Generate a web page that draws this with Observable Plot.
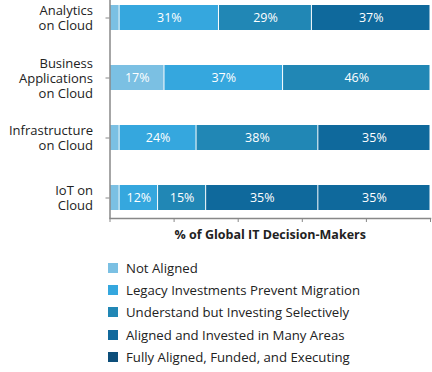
<!DOCTYPE html>
<html><head><meta charset="utf-8">
<script src="https://cdn.jsdelivr.net/npm/d3@7"></script>
<script src="https://cdn.jsdelivr.net/npm/@observablehq/plot@0.6"></script>
<style>
body{margin:0;background:#fff;font-family:"Open Sans",sans-serif;color:#222;}
#chart{width:432px;}
#chart svg{display:block;}
.legend{margin-top:7px;padding-left:108px;font-size:13.2px;}
.legend .row{height:22.2px;display:flex;align-items:center;}
.legend .sw{width:10px;height:10px;margin-right:8px;flex:none;}
</style></head><body><div id="chart"></div>
<script>
const categories = ["Analytics on Cloud","Business Applications on Cloud","Infrastructure on Cloud","IoT on Cloud"];
const categoryLabels = ["Analytics\non Cloud","Business\nApplications\non Cloud","Infrastructure\non Cloud","IoT on\nCloud"];
const seriesNames = ["Not Aligned","Legacy Investments Prevent Migration","Understand but Investing Selectively","Aligned and Invested in Many Areas","Fully Aligned, Funded, and Executing"];
const notAligned = [3,17,3,3];
const legacy = [31,37,24,12];
const understand = [29,46,38,15];
const alignedInvested = [0,0,0,35];
const fullyAligned = [37,0,35,35];
const barColors = ["#7bc0e3","#35a7de","#2187b5","#0f699c","#0f699c"];
const legendColors = ["#7bc0e3","#35a7de","#2187b5","#11699c","#0d4e7a"];
const xTicks = [0,20,40,60,80,100];
const xLabel = "% of Global IT Decision-Makers";

const seriesValues = [notAligned, legacy, understand, alignedInvested, fullyAligned];
const data = [];
categories.forEach((c, i) => {
  seriesNames.forEach((s, j) => {
    data.push({category: c, series: s, value: seriesValues[j][i]});
  });
});
const labelOf = new Map(categories.map((c, i) => [c, categoryLabels[i]]));

const chart = Plot.plot({
  width: 432,
  height: 250,
  marginTop: 0,
  marginLeft: 109.5,
  marginRight: 2,
  marginBottom: 32,
  style: {fontFamily: "Open Sans, sans-serif", color: "#222", background: "#fff"},
  x: {domain: [0, 100]},
  y: {domain: categories, range: [-2.3, 218], paddingInner: 0.58, paddingOuter: 0.104},
  color: {domain: seriesNames, range: barColors},
  marks: [
    Plot.barX(data, Plot.stackX({x: "value", y: "category", z: "series", fill: "series", insetLeft: 0.5, insetRight: 0.5})),
    Plot.text(data, Plot.stackX({x: "value", y: "category", z: "series", text: d => d.value >= 10 ? d.value + "%" : "", fill: "white", fontSize: 12.5})),
    Plot.axisY({tickSize: 4, tickPadding: 13, fontSize: 13, lineHeight: 1.15, tickFormat: d => labelOf.get(d), stroke: "#888", label: null}),
    Plot.axisX({ticks: xTicks, tickSize: 4, tickFormat: () => "", stroke: "#888", label: null}),
    Plot.ruleX([0], {stroke: "#888", strokeWidth: 1.5}),
    Plot.frame({anchor: "bottom", stroke: "#888", strokeWidth: 1.5}),
    Plot.text([xLabel], {frameAnchor: "bottom", dy: 20, fontWeight: "bold", fontSize: 12.5, fill: "#222"})
  ]
});
document.getElementById("chart").appendChild(chart);

const legend = document.createElement("div");
legend.className = "legend";
seriesNames.forEach((s, j) => {
  const row = document.createElement("div");
  row.className = "row";
  const sw = document.createElement("span");
  sw.className = "sw";
  sw.style.background = legendColors[j];
  const t = document.createElement("span");
  t.textContent = s;
  row.appendChild(sw); row.appendChild(t);
  legend.appendChild(row);
});
document.getElementById("chart").appendChild(legend);
</script>
</body></html>
